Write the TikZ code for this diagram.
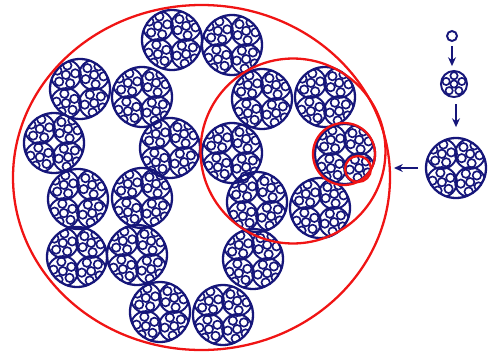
\documentclass[tikz,border=0pt]{standalone}
\usetikzlibrary{arrows.meta,positioning}
\definecolor{ropeblue}{RGB}{22,22,122}
\definecolor{ringred}{RGB}{240,20,20}

\begin{document}
\begin{tikzpicture}[
    x=0.02cm, y=0.02cm,
    navy/.style={draw=ropeblue, line width=1.1pt},
    thin navy/.style={draw=ropeblue, line width=0.95pt},
    hoop/.style={draw=ringred, line width=1.3pt},
    spot/.style={circle, inner sep=0pt, outer sep=0pt},
    strand/.pic={
        \draw[navy] (0,0) circle (15);
        \draw[thin navy] (0,0) circle (4.2);
        \foreach \a in {18,90,...,306}
            \draw[thin navy] (\a:9.5) circle (4.2);
    },
    bundle/.pic={
        \begin{scope}
            \clip (0,0) circle (30);
            \foreach \a in {45,135,225,315}
                \pic[rotate=\a] at (\a:20) {strand};
        \end{scope}
        \draw[navy, line width=1.3pt] (0,0) circle (30);
    },
    arrow/.style={-{Stealth[length=5pt,width=4.5pt]}, draw=ropeblue, line width=1.3pt}
]
\useasboundingbox (0,0) rectangle (490,-352);

% Rope cross-section
\foreach \x/\y in {172/40, 232/45, 80/89, 142/97, 54/143, 170/148,
                   78/199, 142/198, 77/257, 137/255, 160/312, 223/315,
                   253/259, 262/99, 325/97, 232/153, 345/154, 257/202, 320/208}
    \pic at (\x,-\y) {bundle};

% Rings
\draw[hoop] (201.5,-177.5) ellipse (188.5 and 172.5);
\node[spot, hoop, minimum size=3.7cm] (ring2) at (293,-151) {};
\node[spot, hoop, minimum size=1.24cm] (ring3) at (344,-154) {};
\node[spot, hoop, minimum size=0.52cm] (ring4) at (358,-169) {};

% Build-up: wire, strand, bundle
\node[spot, minimum size=0.2cm] (fibre) at (452,-36) {};
\draw[navy] (fibre) circle (5);
\node[spot, minimum size=0.52cm] (single) at (454,-84) {};
\pic[scale=0.87] at (single) {strand};
\node[spot, minimum size=1.2cm] (group) at (456,-168) {};
\pic at (group) {bundle};

% Arrows
\draw[arrow, shorten <=2.8pt, shorten >=2.8pt] (fibre.south) -- (fibre.south |- single.north);
\draw[arrow, shorten <=4pt, shorten >=6.2pt] (single.south -| group.north) -- (group.north);
\draw[arrow, shorten <=4.5pt, shorten >=10.8pt] (group.west) -- (ring3.east |- group.west);

\end{tikzpicture}
\end{document}
